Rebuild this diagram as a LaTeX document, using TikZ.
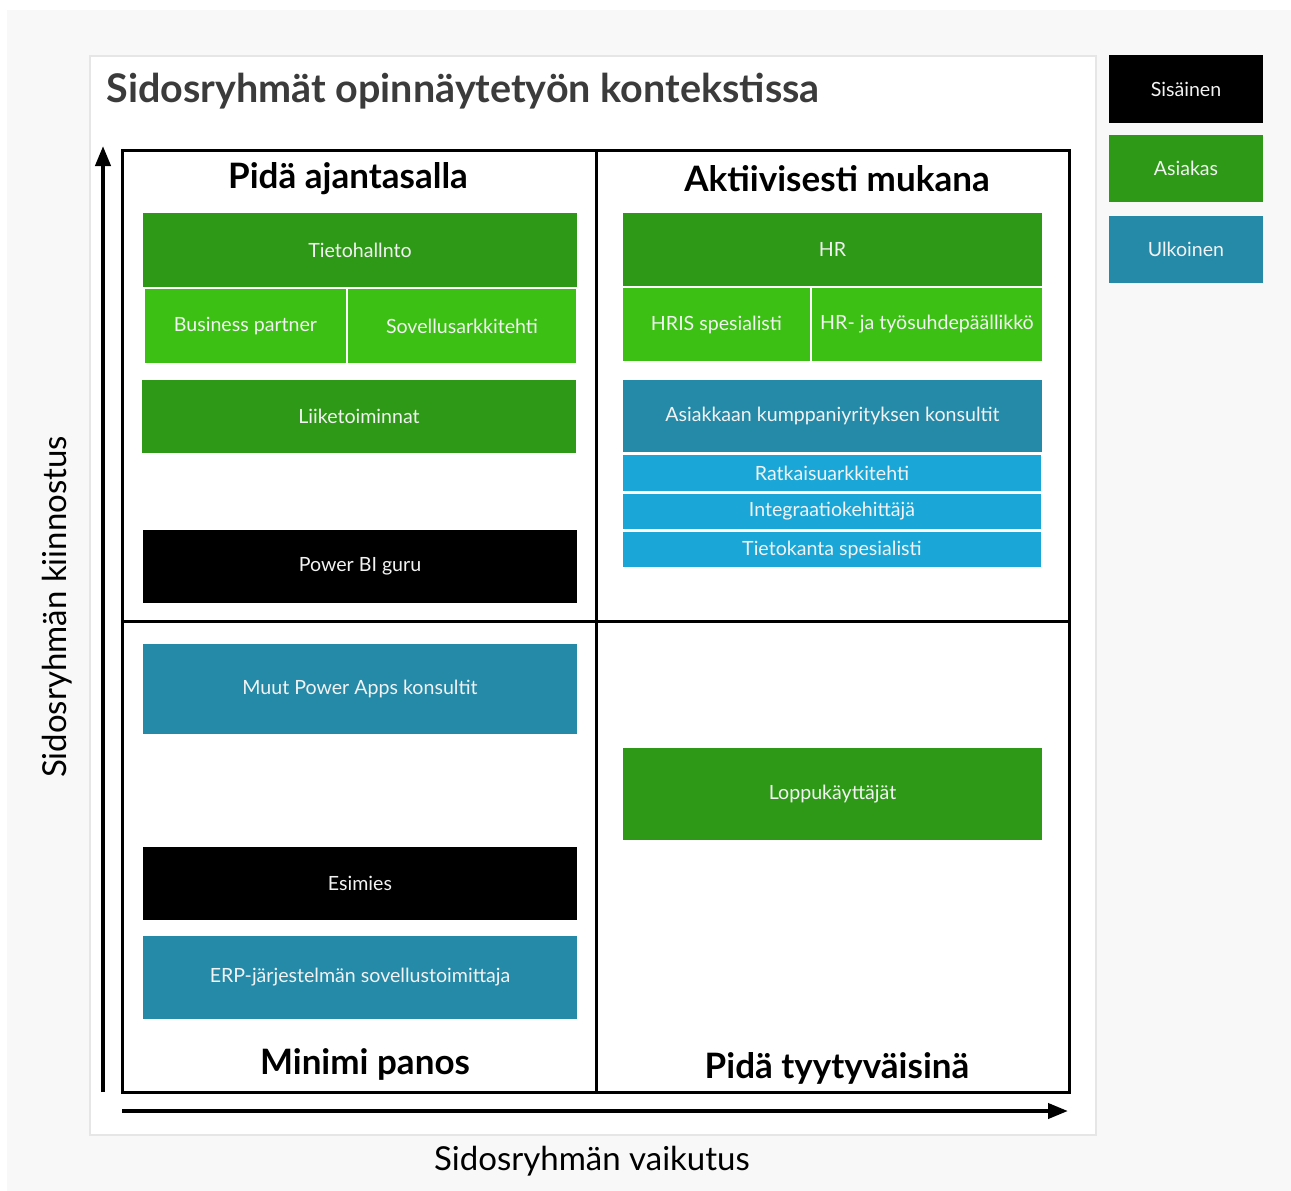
\documentclass[tikz,border=0pt]{standalone}
\usepackage{fontspec}
\setmainfont{Lato}
\usetikzlibrary{arrows.meta}

\definecolor{pohja}{HTML}{F8F8F8}
\definecolor{reuna}{HTML}{E6E6E6}
\definecolor{otsikko}{HTML}{3B3B3B}
\definecolor{sisainen}{HTML}{000000}
\definecolor{asiakas}{HTML}{2E9917}
\definecolor{asiakasvaalea}{HTML}{3CC014}
\definecolor{ulkoinen}{HTML}{2589A8}
\definecolor{ulkoinenvaalea}{HTML}{1AA7D8}

\tikzset{
	box/.style={rectangle, inner sep=0pt, text=white!95!black,
		font=\fontsize{19.6}{23}\selectfont},
	neljannes/.style={font=\fontsize{35}{42}\selectfont\bfseries, text=black},
	akseli/.style={line width=4pt, -{Triangle[length=20pt,width=15pt]}}
}

\begin{document}
\begin{tikzpicture}[x=1pt, y=-1pt]
	
	\useasboundingbox (0,0) rectangle (1291,1191);
	\fill[pohja] (7,10) rectangle (1291,1191);
	\draw[reuna, fill=white, line width=1.5pt] (90,56) rectangle (1096,1135);
	
	\node[anchor=west, text=otsikko, font=\fontsize{39.5}{46}\selectfont\bfseries] (title) at (103,91) {Sidosryhmät opinnäytetyön kontekstissa};
	
	% nelikentta
	\draw[line width=3pt] (122,150) rectangle (1069,1092);
	\draw[line width=3pt] (596,150) -- (596,1092);
	\draw[line width=3pt] (122,621) -- (1069,621);
	
	\node[neljannes] (q1) at (348,179) {Pidä ajantasalla};
	\node[neljannes] (q2) at (837,179) {Aktiivisesti mukana};
	\node[neljannes] (q3) at (365,1064) {Minimi panos};
	\node[neljannes] (q4) at (837,1068) {Pidä tyytyväisinä};
	
	% akselit
	\coordinate (yalku) at (103,1092);
	\coordinate (yloppu) at (103,146);
	\coordinate (xalku) at (122,1111);
	\coordinate (xloppu) at (1068,1111);
	\draw[akseli] (yalku) -- (yloppu);
	\draw[akseli] (xalku) -- (xloppu);
	
	\node[rotate=90, font=\fontsize{33}{40}\selectfont] (ylabel) at (57,607) {Sidosryhmän kiinnostus};
	\node[font=\fontsize{33}{40}\selectfont] (xlabel) at (592,1161) {Sidosryhmän vaikutus};
	
	% Pida ajantasalla
	\node[box, fill=asiakas, minimum width=434pt, minimum height=74pt] (tieto) at (360,250) {Tietohallnto};
	\node[box, fill=asiakasvaalea, minimum width=201pt, minimum height=74pt] (busp) at (245.5,326) {Business partner};
	\node[box, fill=asiakasvaalea, minimum width=228pt, minimum height=74pt] (sovel) at (462,326) {Sovellusarkkitehti};
	\node[box, fill=asiakas, minimum width=434pt, minimum height=73pt] (liike) at (359,416.5) {Liiketoiminnat};
	\node[box, fill=sisainen, minimum width=434pt, minimum height=73pt] (pbi) at (360,566.5) {Power BI guru};
	
	% Aktiivisesti mukana
	\node[box, fill=asiakas, minimum width=419pt, minimum height=73pt] (hr) at (832.5,249.5) {HR};
	\node[box, fill=asiakasvaalea, minimum width=187pt, minimum height=73pt] (hris) at (716.5,324.5) {HRIS spesialisti};
	\node[box, fill=asiakasvaalea, minimum width=230pt, minimum height=73pt] (hrtyo) at (927,324.5) {HR- ja työsuhdepäällikkö};
	\node[box, fill=ulkoinen, minimum width=419pt, minimum height=72pt] (kumppani) at (832.5,416) {Asiakkaan kumppaniyrityksen konsultit};
	\node[box, fill=ulkoinenvaalea, minimum width=418pt, minimum height=36pt] (ratk) at (832,473) {Ratkaisuarkkitehti};
	\node[box, fill=ulkoinenvaalea, minimum width=418pt, minimum height=35pt] (integ) at (832,511.5) {Integraatiokehittäjä};
	\node[box, fill=ulkoinenvaalea, minimum width=418pt, minimum height=35pt] (tkanta) at (832,549.5) {Tietokanta spesialisti};
	
	% Minimi panos
	\node[box, fill=ulkoinen, minimum width=434pt, minimum height=90pt] (muut) at (360,689) {Muut Power Apps konsultit};
	\node[box, fill=sisainen, minimum width=434pt, minimum height=73pt] (esim) at (360,883.5) {Esimies};
	\node[box, fill=ulkoinen, minimum width=434pt, minimum height=83pt] (erp) at (360,977.5) {ERP-järjestelmän sovellustoimittaja};
	
	% Pida tyytyvaisina
	\node[box, fill=asiakas, minimum width=419pt, minimum height=92pt] (loppu) at (832.5,794) {Loppukäyttäjät};
	
	% selite
	\node[box, fill=sisainen, minimum width=154pt, minimum height=68pt] (sis) at (1186,89) {Sisäinen};
	\node[box, fill=asiakas, minimum width=154pt, minimum height=67pt] (asi) at (1186,168.5) {Asiakas};
	\node[box, fill=ulkoinen, minimum width=154pt, minimum height=67pt] (ulk) at (1186,249.5) {Ulkoinen};
	
\end{tikzpicture}
\end{document}
